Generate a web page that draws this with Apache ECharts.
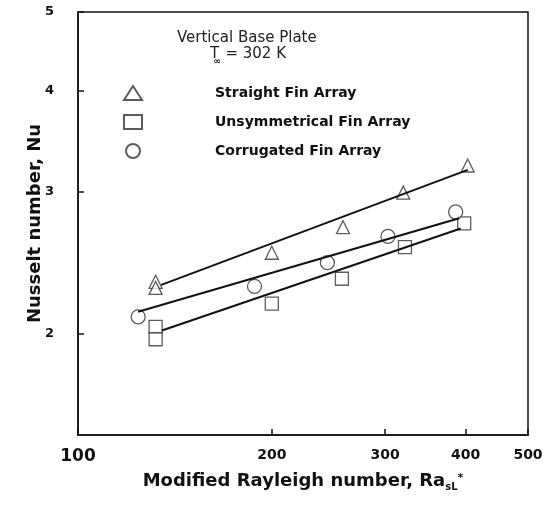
<!DOCTYPE html>
<html>
<head>
<meta charset="utf-8">
<script src="https://cdn.jsdelivr.net/npm/echarts@6/dist/echarts.min.js"></script>
<style>
  html, body { margin: 0; padding: 0; background: #fff; }
  #chart { width: 548px; height: 512px; }
</style>
</head>
<body>
<div id="chart"></div>
<script>
// measured points (Ra*, Nu)
var straightRa = [132, 132, 200, 258, 320, 403];
var straightNu = [2.32, 2.28, 2.52, 2.71, 2.99, 3.23];
var unsymRa = [132, 132, 200, 257, 322, 398];
var unsymNu = [2.04, 1.97, 2.18, 2.34, 2.56, 2.74];
var corrRa = [124, 188, 244, 303, 386];
var corrNu = [2.10, 2.29, 2.45, 2.64, 2.83];
// fitted lines, end points
var straightFitRa = [134.7, 403];
var straightFitNu = [2.30, 3.19];
var unsymFitRa = [135, 393];
var unsymFitNu = [2.02, 2.70];
var corrFitRa = [124, 391];
var corrFitNu = [2.13, 2.78];
// ticks
var xTicks = [100, 200, 300, 400, 500];
var yTicks = [2, 3, 4, 5];

function pairs(xs, ys) {
    var out = [];
    for (var i = 0; i < xs.length; i++) {
        out.push([xs[i], ys[i]]);
    }
    return out;
}

var markStyle = { color: '#fff', borderColor: '#333', borderWidth: 1.3 };
var fitStyle = { color: '#111', width: 2 };

var chart = echarts.init(document.getElementById('chart'));
var option = {
    animation: false,
    grid: { left: 78, right: 20, top: 12, bottom: 77, show: true, borderColor: '#111', borderWidth: 1.5 },
    legend: {
        orient: 'vertical',
        left: 118, top: 80,
        itemWidth: 18, itemHeight: 14, itemGap: 13,
        data: ['Straight Fin Array', 'Unsymmetrical Fin Array', 'Corrugated Fin Array'],
        formatter: function (name) { return '{g|}{t|' + name + '}'; },
        textStyle: {
            rich: {
                g: { width: 68 },
                t: { fontFamily: 'DejaVu Sans', fontWeight: 'bold', fontSize: 14, color: '#111' }
            }
        }
    },
    graphic: [
        { type: 'text', left: 177, top: 31, style: { text: 'Vertical Base Plate', font: '15px "DejaVu Sans"', fill: '#222' } },
        {
            type: 'text', left: 210, top: 47,
            style: {
                text: '{t|T}{s|∞}{t| = 302 K}',
                rich: {
                    t: { font: '15px "DejaVu Sans"', fill: '#222' },
                    s: { font: 'bold 9px "DejaVu Sans"', fill: '#222', padding: [14, 0, 0, -6] }
                }
            }
        }
    ],
    xAxis: {
        type: 'log', logBase: 10, min: 100, max: 500,
        name: '{n|Modified Rayleigh number, Ra}{s|sL}{u|*}',
        nameLocation: 'middle', nameGap: 36,
        nameTextStyle: {
            rich: {
                n: { fontFamily: 'DejaVu Sans', fontWeight: 'bold', fontSize: 18, color: '#111' },
                s: { fontFamily: 'DejaVu Sans', fontWeight: 'bold', fontSize: 10, color: '#111', padding: [11, 0, 0, 0] },
                u: { fontFamily: 'DejaVu Sans', fontWeight: 'bold', fontSize: 11, color: '#111', padding: [0, 0, 7, 0] }
            }
        },
        axisLine: { lineStyle: { color: '#111', width: 1.5 } },
        axisTick: { inside: true, length: 6, customValues: xTicks, lineStyle: { color: '#111', width: 1.5 } },
        axisLabel: {
            customValues: xTicks, margin: 13,
            formatter: function (v) { return v === 100 ? '{b|100}' : '{a|' + v + '}'; },
            rich: {
                a: { fontFamily: 'DejaVu Sans', fontWeight: 'bold', fontSize: 14, color: '#111' },
                b: { fontFamily: 'DejaVu Sans', fontWeight: 'bold', fontSize: 17, color: '#111' }
            }
        },
        splitLine: { show: false },
        minorTick: { show: false }
    },
    yAxis: {
        type: 'log', logBase: 10, min: 1.5, max: 5,
        name: 'Nusselt number, Nu',
        nameLocation: 'middle', nameGap: 34, nameMoveOverlap: false,
        nameTextStyle: { fontFamily: 'DejaVu Sans', fontWeight: 'bold', fontSize: 18, color: '#111' },
        axisLine: { lineStyle: { color: '#111', width: 1.5 } },
        axisTick: { inside: true, length: 6, customValues: yTicks, lineStyle: { color: '#111', width: 1.5 } },
        axisLabel: {
            customValues: yTicks, margin: 24,
            fontFamily: 'DejaVu Sans', fontWeight: 'bold', fontSize: 13, color: '#111'
        },
        splitLine: { show: false }
    },
    series: [
        { name: 'Straight Fin Array', type: 'scatter', symbol: 'triangle', symbolSize: 13, itemStyle: markStyle, data: pairs(straightRa, straightNu), z: 3 },
        { name: 'Unsymmetrical Fin Array', type: 'scatter', symbol: 'rect', symbolSize: 13, itemStyle: markStyle, data: pairs(unsymRa, unsymNu), z: 3 },
        { name: 'Corrugated Fin Array', type: 'scatter', symbol: 'circle', symbolSize: 14, itemStyle: markStyle, data: pairs(corrRa, corrNu), z: 3 },
        { type: 'line', symbol: 'none', lineStyle: fitStyle, data: pairs(straightFitRa, straightFitNu), z: 4 },
        { type: 'line', symbol: 'none', lineStyle: fitStyle, data: pairs(unsymFitRa, unsymFitNu), z: 4 },
        { type: 'line', symbol: 'none', lineStyle: fitStyle, data: pairs(corrFitRa, corrFitNu), z: 4 }
    ]
};
chart.setOption(option);
</script>
</body>
</html>
